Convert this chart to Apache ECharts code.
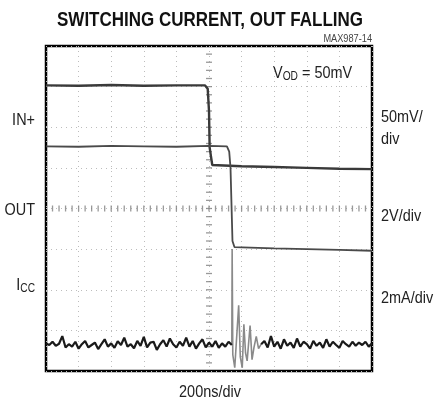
<!DOCTYPE html>
<html>
<head>
<meta charset="utf-8">
<script src="https://cdn.jsdelivr.net/npm/echarts@6/dist/echarts.min.js"></script>
<style>
  html, body { margin: 0; padding: 0; background: #fff; }
  #chart { width: 437px; height: 404px; }
</style>
</head>
<body>
<div id="chart"></div>
<script>
// scope screen: 10 div across (200ns/div), 8 div high, values in divisions
var inPlus = [[0, 7.03], [1, 7.02], [2, 7.04], [3, 7.02], [4, 7.03], [4.88, 7.03], [4.96, 6.95], [5.0, 6.4], [5.02, 5.5], [5.1, 5.07], [6, 5.04], [7, 5.02], [8, 5.0], [9, 4.98], [10, 4.97]];
var outTrace = [[0, 5.53], [1, 5.52], [2, 5.54], [3, 5.53], [4, 5.52], [5, 5.54], [5.55, 5.53], [5.62, 5.4], [5.66, 5.0], [5.72, 3.2], [5.78, 3.05], [7, 3.02], [8, 3.0], [9, 2.98], [10, 2.96]];

// supply current: noise before switching, spike + ringing, noise after
var iccStep = 0.1;
var iccBefore = [0.68, 0.64, 0.72, 0.62, 0.67, 0.86, 0.58, 0.66, 0.6, 0.72, 0.55, 0.66, 0.74, 0.58, 0.64, 0.7, 0.54, 0.66, 0.78, 0.6,
  0.68, 0.57, 0.73, 0.64, 0.82, 0.6, 0.66, 0.56, 0.74, 0.62, 0.84, 0.58, 0.7, 0.72, 0.52, 0.66, 0.76, 0.6, 0.8, 0.66,
  0.58, 0.72, 0.62, 0.82, 0.6, 0.74, 0.55, 0.68, 0.78, 0.58, 0.7, 0.6, 0.74, 0.57, 0.68, 0.6, 0.72, 0.64];
var iccRing = [[5.7, 0.64], [5.71, 3.0], [5.73, 0.4], [5.79, 0.08], [5.85, 0.1], [5.91, 1.62], [5.96, 0.35], [6.02, 0.08], [6.07, 1.15], [6.12, 0.45], [6.17, 0.25], [6.26, 1.12], [6.32, 0.28], [6.38, 0.58], [6.45, 0.85], [6.52, 0.55], [6.6, 0.66]];
var iccAfter = [0.66, 0.74, 0.58, 0.86, 0.6, 0.72, 0.55, 0.78, 0.62, 0.7, 0.57, 0.8, 0.6, 0.72, 0.66, 0.55, 0.74, 0.62, 0.7, 0.57,
  0.78, 0.6, 0.72, 0.64, 0.57, 0.74, 0.66, 0.6, 0.72, 0.62, 0.7, 0.64, 0.72, 0.6, 0.68];

var leftLabels = ['IN+', 'OUT', 'I'];
var rightLabels = ['50mV/\ndiv', '2V/div', '2mA/div'];

var iccA = iccBefore.map(function (v, i) { return [+(i * iccStep).toFixed(2), v]; });
var iccB = iccAfter.map(function (v, i) { return [+(6.6 + i * iccStep).toFixed(2), v]; });

// small cross ticks on the centre graticule
var vTicks = [], hTicks = [];
for (var k = 1; k < 40; k++) vTicks.push([5, k * 0.2]);
for (var k = 1; k < 50; k++) hTicks.push([k * 0.2, 4]);

var FONT = '"Liberation Sans", Arial, sans-serif';
var SX = 0.85; // squeeze to look like a narrow face

function label(x, y, text, align, size, extra) {
  var style = { text: text, font: (size || 17) + 'px ' + FONT, fill: '#222', textAlign: align, textVerticalAlign: 'middle' };
  if (extra) for (var key in extra) style[key] = extra[key];
  return { type: 'text', x: x, y: y, scaleX: SX, style: style };
}

var myChart = echarts.init(document.getElementById('chart'));

var option = {
  animation: false,
  grid: { left: 46, right: 65, top: 46, bottom: 33, show: true, borderColor: '#000', borderWidth: 2.5, backgroundColor: '#fff' },
  xAxis: {
    type: 'value', min: 0, max: 10, interval: 1,
    axisLabel: { show: false }, axisTick: { show: false }, axisLine: { show: false },
    splitLine: { show: true, lineStyle: { color: '#bdbdbd', type: [1, 4], width: 1 } }
  },
  yAxis: {
    type: 'value', min: 0, max: 8, interval: 1,
    axisLabel: { show: false }, axisTick: { show: false }, axisLine: { show: false },
    splitLine: { show: true, lineStyle: { color: '#bdbdbd', type: [1, 4], width: 1 } }
  },
  series: [
    { type: 'scatter', data: vTicks, symbol: 'rect', symbolSize: [6, 1.3], itemStyle: { color: '#808080' }, silent: true },
    { type: 'scatter', data: hTicks, symbol: 'rect', symbolSize: [1.3, 6], itemStyle: { color: '#808080' }, silent: true },
    { type: 'line', data: inPlus, showSymbol: false, lineStyle: { color: '#3a3a3a', width: 2.4 } },
    { type: 'line', data: outTrace, showSymbol: false, lineStyle: { color: '#4a4a4a', width: 1.8 } },
    { type: 'line', data: iccRing, showSymbol: false, lineStyle: { color: '#8a8a8a', width: 1.6 } },
    { type: 'line', data: iccA, showSymbol: false, lineStyle: { color: '#1a1a1a', width: 2.2 } },
    { type: 'line', data: iccB, showSymbol: false, lineStyle: { color: '#1a1a1a', width: 2.2 } }
  ],
  graphic: [
    { type: 'text', x: 210, y: 20, scaleX: 0.85, style: { text: 'SWITCHING CURRENT, OUT FALLING', font: 'bold 20px ' + FONT, fill: '#111', textAlign: 'center', textVerticalAlign: 'middle' } },
    { type: 'text', x: 372, y: 39, scaleX: 0.92, style: { text: 'MAX987-14', font: '10px ' + FONT, fill: '#444', textAlign: 'right', textVerticalAlign: 'middle' } },
    { type: 'text', x: 273, y: 73, scaleX: SX, style: { text: '{a|V}{s|OD}{a| = 50mV}', textVerticalAlign: 'middle',
      rich: { a: { font: '17px ' + FONT, fill: '#222' }, s: { font: '12px ' + FONT, fill: '#222', padding: [8, 0, 0, 0] } } } },
    label(35, 120, leftLabels[0], 'right'),
    label(35, 210, leftLabels[1], 'right'),
    { type: 'text', x: 35, y: 285, scaleX: SX, style: { text: '{a|' + leftLabels[2] + '}{s|CC}', textAlign: 'right', textVerticalAlign: 'middle',
      rich: { a: { font: '17px ' + FONT, fill: '#222' }, s: { font: '12px ' + FONT, fill: '#222', padding: [8, 0, 0, 0] } } } },
    label(381, 128, rightLabels[0], 'left', 17, { lineHeight: 22 }),
    label(381, 216, rightLabels[1], 'left'),
    label(381, 298, rightLabels[2], 'left'),
    label(210, 392, '200ns/div', 'center')
  ]
};
myChart.setOption(option);
</script>
</body>
</html>
